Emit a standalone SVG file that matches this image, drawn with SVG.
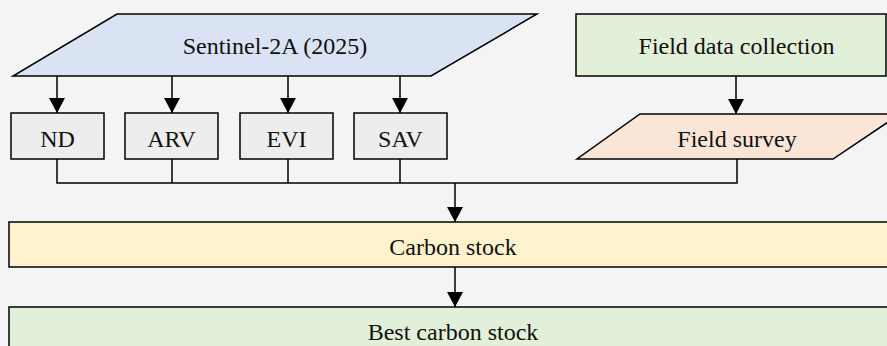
<svg xmlns="http://www.w3.org/2000/svg" width="887" height="346" viewBox="0 0 887 346">
<defs>
<marker id="ah" markerUnits="userSpaceOnUse" markerWidth="18" markerHeight="18" viewBox="0 0 18 18" refX="15" refY="9" orient="auto">
<path d="M0,1 L15,9 L0,17 Z" fill="#000"/>
</marker>
</defs>
<style>
.s{stroke:#000;stroke-width:1.5}
.t{font-family:"Liberation Serif","Times New Roman",serif;font-size:24px;fill:#111;text-anchor:middle}
.c{fill:none;stroke:#000;stroke-width:1.5}
</style>
<rect x="0" y="0" width="887" height="346" fill="#f4f4f4"/>
<g id="sentinel">
<polygon class="s" points="117,14 537,14 431,76 13,76" fill="#dae3f3"/>
<text class="t" x="275" y="54">Sentinel-2A (2025)</text>
</g>
<g id="field-data">
<rect class="s" x="576" y="14" width="310" height="62" fill="#e2efd9"/>
<text class="t" x="736.5" y="54">Field data collection</text>
</g>
<g id="nd">
<rect class="s" x="11" y="113" width="93" height="46" fill="#ededed"/>
<text class="t" x="57.5" y="147">ND</text>
</g>
<g id="arv">
<rect class="s" x="125" y="113" width="93" height="46" fill="#ededed"/>
<text class="t" x="171.5" y="147">ARV</text>
</g>
<g id="evi">
<rect class="s" x="240" y="113" width="93" height="46" fill="#ededed"/>
<text class="t" x="286.5" y="147">EVI</text>
</g>
<g id="sav">
<rect class="s" x="354" y="113" width="93" height="46" fill="#ededed"/>
<text class="t" x="400.5" y="147">SAV</text>
</g>
<g id="field-survey">
<polygon class="s" points="640,114 900,114 833,159 577,159" fill="#fbe5d6"/>
<text class="t" x="737" y="147">Field survey</text>
</g>
<g id="carbon-stock">
<rect class="s" x="9" y="222" width="890" height="45" fill="#fff2cc"/>
<text class="t" x="453" y="255">Carbon stock</text>
</g>
<g id="best-carbon-stock">
<rect class="s" x="9" y="307" width="890" height="60" fill="#e2efd9"/>
<text class="t" x="453" y="340">Best carbon stock</text>
</g>
<g id="connectors">
<line class="c" x1="57" y1="76" x2="57" y2="113" marker-end="url(#ah)"/>
<line class="c" x1="172" y1="76" x2="172" y2="113" marker-end="url(#ah)"/>
<line class="c" x1="288" y1="76" x2="288" y2="113" marker-end="url(#ah)"/>
<line class="c" x1="400" y1="76" x2="400" y2="113" marker-end="url(#ah)"/>
<line class="c" x1="736" y1="76" x2="736" y2="114" marker-end="url(#ah)"/>
<polyline class="c" points="57,159 57,183 737,183 737,159"/>
<line class="c" x1="172" y1="159" x2="172" y2="183"/>
<line class="c" x1="288" y1="159" x2="288" y2="183"/>
<line class="c" x1="400" y1="159" x2="400" y2="183"/>
<line class="c" x1="455" y1="183" x2="455" y2="222" marker-end="url(#ah)"/>
<line class="c" x1="455" y1="267" x2="455" y2="307" marker-end="url(#ah)"/>
</g>
</svg>
